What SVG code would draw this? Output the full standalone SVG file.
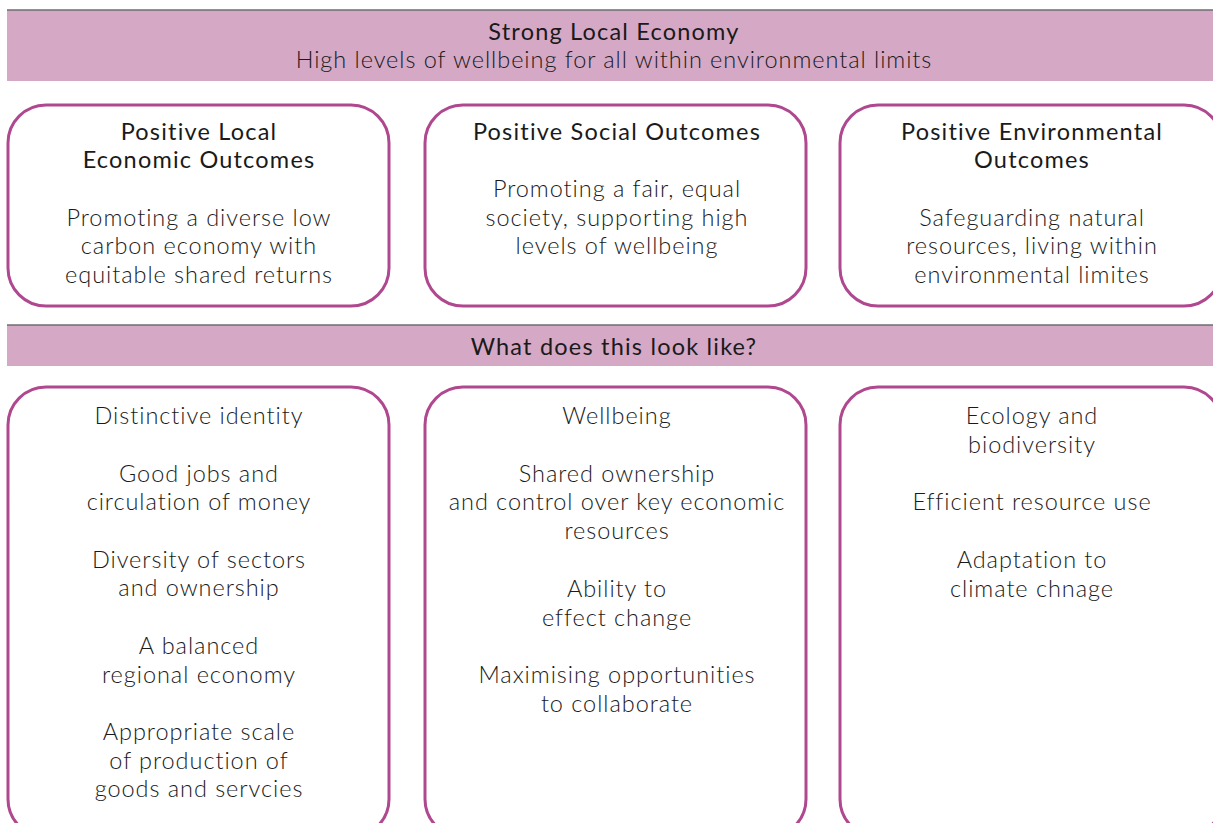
<svg xmlns="http://www.w3.org/2000/svg" width="1213" height="823" viewBox="0 0 1213 823">
<style>
.band{fill:#d5a8c5}
.bline{stroke:#6e6e6e;stroke-width:1.5}
.box{fill:#fff;stroke:#b0488f;stroke-width:3}
text{font-family:Lato,"Open Sans",sans-serif;font-size:23.5px;letter-spacing:0.95px;font-weight:300;fill:#1a1a1a;text-anchor:middle}
.h{font-weight:400;letter-spacing:1.2px}
</style>
<rect width="1213" height="823" fill="#fff"/>
<g id="band-top">
<rect class="band" x="7" y="10" width="1206" height="71"/>
<line class="bline" x1="7" y1="10" x2="1213" y2="10"/>
<text class="h" x="614" y="40">Strong Local Economy</text>
<text x="614" y="68">High levels of wellbeing for all within environmental limits</text>
</g>
<g id="box-econ">
<rect class="box" x="8" y="105" width="381" height="201" rx="38"/>
<text class="h" x="199" y="140">Positive Local</text>
<text class="h" x="199" y="168">Economic Outcomes</text>
<text x="199" y="226">Promoting a diverse low</text>
<text x="199" y="254">carbon economy with</text>
<text x="199" y="283">equitable shared returns</text>
</g>
<g id="box-social">
<rect class="box" x="425" y="105" width="381" height="201" rx="38"/>
<text class="h" x="617" y="140">Positive Social Outcomes</text>
<text x="617" y="197">Promoting a fair, equal</text>
<text x="617" y="226">society, supporting high</text>
<text x="617" y="254">levels of wellbeing</text>
</g>
<g id="box-env">
<rect class="box" x="840" y="105" width="382" height="201" rx="38"/>
<text class="h" x="1032" y="140">Positive Environmental</text>
<text class="h" x="1032" y="168">Outcomes</text>
<text x="1032" y="226">Safeguarding natural</text>
<text x="1032" y="254">resources, living within</text>
<text x="1032" y="283">environmental limites</text>
</g>
<g id="band-mid">
<rect class="band" x="7" y="325" width="1206" height="41"/>
<line class="bline" x1="7" y1="325" x2="1213" y2="325"/>
<text class="h" x="614" y="355">What does this look like?</text>
</g>
<g id="list-econ">
<rect class="box" x="8" y="387" width="381" height="450" rx="38"/>
<text x="199" y="424">Distinctive identity</text>
<text x="199" y="482">Good jobs and</text>
<text x="199" y="510">circulation of money</text>
<text x="199" y="568">Diversity of sectors</text>
<text x="199" y="596">and ownership</text>
<text x="199" y="654">A balanced</text>
<text x="199" y="683">regional economy</text>
<text x="199" y="740">Appropriate scale</text>
<text x="199" y="769">of production of</text>
<text x="199" y="797">goods and servcies</text>
</g>
<g id="list-social">
<rect class="box" x="425" y="387" width="381" height="450" rx="38"/>
<text x="617" y="424">Wellbeing</text>
<text x="617" y="482">Shared ownership</text>
<text x="617" y="510">and control over key economic</text>
<text x="617" y="539">resources</text>
<text x="617" y="597">Ability to</text>
<text x="617" y="626">effect change</text>
<text x="617" y="683">Maximising opportunities</text>
<text x="617" y="712">to collaborate</text>
</g>
<g id="list-env">
<rect class="box" x="840" y="387" width="382" height="450" rx="38"/>
<text x="1032" y="424">Ecology and</text>
<text x="1032" y="453">biodiversity</text>
<text x="1032" y="510">Efficient resource use</text>
<text x="1032" y="568">Adaptation to</text>
<text x="1032" y="597">climate chnage</text>
</g>
<g id="connectors"></g>
</svg>
